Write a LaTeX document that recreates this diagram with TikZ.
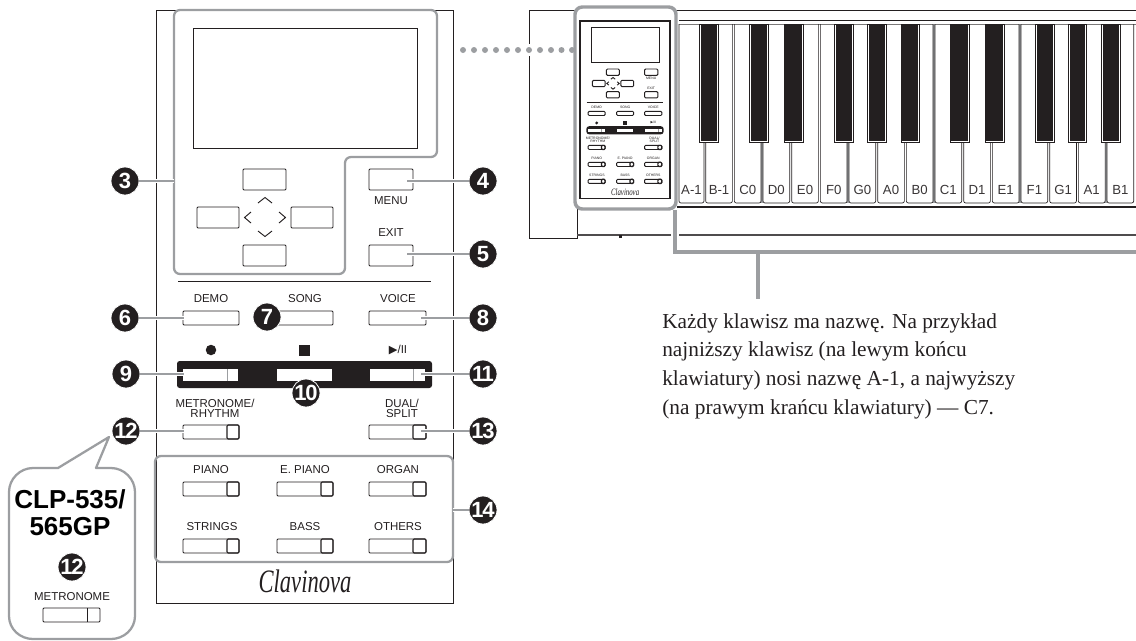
\documentclass[tikz,border=0pt]{standalone}
\usepackage{graphicx}
\usepackage{fontspec}
\setmainfont{Liberation Serif}
\setsansfont{Liberation Sans}
\newfontfamily\numfont[LetterSpace=-6.0]{Liberation Sans}
\newfontfamily\symfont{DejaVu Sans}
\definecolor{ink}{HTML}{231F20}
\definecolor{grp}{HTML}{9C9EA1}
\def\plw{.7pt}
\tikzset{
  x=.75pt,y=-.75pt,
  pline/.style={draw=ink,line width=\plw},
  btnbox/.style={pline,fill=white,rectangle,rounded corners=.8pt,inner sep=0pt,outer sep=0pt},
  lbl/.style={font=\sffamily\fontsize{8.6}{7.6}\selectfont,text=ink,align=center,inner sep=0pt},
  grpline/.style={draw=grp,line width=1.7pt,line join=round},
  leader/.style={draw=grp,line width=1.7pt},
  callout/.style={circle,fill=ink,draw=white,line width=.6pt,minimum size=21pt,inner sep=0pt,text=white,font=\numfont\bfseries\fontsize{16.5}{16.5}\selectfont},
  bodyline/.style={draw=ink,line width=.75pt},
}
% plain button: name, x1,y1,x2,y2
\newcommand\btn[5]{\node[btnbox,minimum width={(#4-#2)*0.75pt},minimum height={(#5-#3)*0.75pt}] (#1) at ({(#2+#4)/2},{(#3+#5)/2}) {};}
% button with a lamp part: name,x1,y1,x2,y2,divider
\newcommand\dbtn[6]{\btn{#1}{#2}{#3}{#4}{#5}
  \draw[pline,line width=.85pt,rounded corners=.8pt] (#6,#3) -- (#4,#3) -- (#4,#5) -- (#6,#5) -- cycle;}
\newcommand\panelcontents[1]{%
  \node[pline,rectangle,inner sep=0pt,outer sep=0pt,minimum width={224*0.75pt},minimum height={120*0.75pt}] (#1disp) at (305,88) {};
  \btn{#1up}{243}{169}{286}{190}
  \btn{#1left}{197}{207}{239}{228}
  \btn{#1right}{291}{207}{333}{228}
  \btn{#1down}{243}{245}{286}{266}
  \draw[pline] (258,203) -- (265,197.5) -- (272,203);
  \draw[pline] (258,231) -- (265,236.5) -- (272,231);
  \draw[pline] (251,212) -- (244.5,217.5) -- (251,223);
  \draw[pline] (279,212) -- (285.5,217.5) -- (279,223);
  \btn{#1menu}{369}{169}{413}{190}
  \node[lbl] (#1menulbl) at (391,201) {MENU};
  \node[lbl] (#1exitlbl) at (391,233) {EXIT};
  \btn{#1exit}{369}{245}{413}{266}
  \draw[pline] (178,281) -- (431,281);
  \node[lbl] (#1demolbl) at (211,299) {DEMO};
  \node[lbl] (#1songlbl) at (305,299) {SONG};
  \node[lbl] (#1voicelbl) at (398,299) {VOICE};
  \btn{#1demo}{183}{311}{239}{325}
  \btn{#1song}{277}{311}{333}{325}
  \btn{#1voice}{369}{311}{426}{325}
  \node[circle,fill=ink,inner sep=0pt,minimum size={10.5*0.75pt}] (#1rec) at (211,350) {};
  \node[rectangle,fill=ink,inner sep=0pt,minimum size={11*0.75pt}] (#1stop) at (304,350) {};
  \node[lbl] (#1play) at (398,350) {{\symfont\fontsize{8.5}{8.5}\selectfont ▶}/II};
  \fill[ink,rounded corners=2pt] (177,361) rectangle (432,388);
  \fill[white] (183,369) rectangle (238,381);
  \fill[white] (277,369) rectangle (332,381);
  \fill[white] (370,369) rectangle (425,381);
  \draw[draw=grp,line width=.5pt] (227,369) -- (227,381);
  \draw[draw=grp,line width=.5pt] (413,369) -- (413,381);
  \node[lbl] (#1metlbl) at (215,408) {METRONOME/\\RHYTHM};
  \node[lbl] (#1duallbl) at (402,408) {DUAL/\\SPLIT};
  \dbtn{#1met}{183}{425}{239}{439}{227}
  \dbtn{#1dual}{369}{425}{426}{439}{413}
  \node[lbl] (#1pianolbl) at (211,470) {PIANO};
  \node[lbl] (#1epianolbl) at (305,470) {E. PIANO};
  \node[lbl] (#1organlbl) at (398,470) {ORGAN};
  \dbtn{#1piano}{183}{482}{239}{496}{227}
  \dbtn{#1epiano}{277}{482}{333}{496}{321}
  \dbtn{#1organ}{369}{482}{426}{496}{413}
  \node[lbl] (#1stringslbl) at (212,527) {STRINGS};
  \node[lbl] (#1basslbl) at (305,527) {BASS};
  \node[lbl] (#1otherslbl) at (398,527) {OTHERS};
  \dbtn{#1strings}{183}{539}{239}{553}{227}
  \dbtn{#1bass}{277}{539}{333}{553}{321}
  \dbtn{#1others}{369}{539}{426}{553}{413}
  \node[text=ink,inner sep=0pt,font=\rmfamily\itshape\fontsize{24.5}{25}\selectfont] (#1brand) at (305,581) {\scalebox{.69}[1]{Clavinova}};
}
\begin{document}
\begin{tikzpicture}
\path[use as bounding box] (0,0) rectangle (1136,640);
% ---------- main panel
\draw[bodyline] (156,10) rectangle (453,603);
\panelcontents{m}
\draw[grpline,rounded corners=4.5pt] (174,10) -- (437,10) -- (437,157) -- (345,157) -- (345,274) -- (174,274) -- cycle;
\draw[grpline,rounded corners=4.5pt] (155,456) rectangle (453,562);
% ---------- callouts and leaders
\coordinate (t3) at (174,181);
\coordinate (t4) at (407,181);
\coordinate (t5) at (407,254);
\coordinate (t6) at (184,318);
\coordinate (t8) at (421,318);
\coordinate (t9) at (184,374);
\coordinate (t11) at (421,374);
\coordinate (t12) at (184,431);
\coordinate (t13) at (421,431);
\coordinate (t14) at (453,510);
\node[callout] (c3) at (125,181) {3};
\node[callout] (c4) at (483,181) {4};
\node[callout] (c5) at (483,254) {5};
\node[callout] (c6) at (125,318) {6};
\node[callout] (c8) at (483,318) {8};
\node[callout] (c9) at (126,374) {9};
\node[callout] (c11) at (483,374) {11};
\node[callout] (c12) at (126,431) {12};
\node[callout] (c13) at (483,431) {13};
\node[callout] (c14) at (483,510) {14};
\foreach \a/\b in {c3/t3,c4/t4,c5/t5,c6/t6,c8/t8,c9/t9,c11/t11,c12/t12,c13/t13,c14/t14}{
  \draw[draw=white,line width=3.6pt] (\a) -- (\b);
  \draw[leader] (\a) -- (\b);
}
\node[callout] (c7) at (267,317) {7};
\node[callout] (c10) at (306,393) {10};
% ---------- speech bubble
\draw[grpline,fill=white] (58,468) -- (109,437) -- (96,468) -- (111,468) .. controls (124,468) and (135,479) .. (135,492) -- (135,616) .. controls (135,629) and (124,639) .. (111,639) -- (33,639) .. controls (20,639) and (9,629) .. (9,616) -- (9,492) .. controls (9,479) and (20,468) .. (33,468) -- cycle;
\node[text=black,inner sep=0pt,align=center,font=\sffamily\bfseries\fontsize{19.5}{20.3}\selectfont] (clp) at (70,513) {CLP-535/\\565GP};
\node[callout] (c12b) at (72,567) {12};
\node[lbl] (metb) at (72,597) {METRONOME};
\btn{bmet}{43}{608}{100}{622}
\draw[pline] (87,608) -- (87,622);
% ---------- keyboard body
\draw[bodyline] (529,10) -- (1136,10);
\draw[bodyline] (529,10) -- (529,238) -- (577,238) -- (577,205);
\draw[draw=ink!80,line width=.85pt] (577,235) -- (1136,235);
\fill[ink] (619,235) rectangle (621.5,238);
\draw[draw=ink,line width=.75pt] (679,20) -- (1136,20);
\draw[draw=ink!60,line width=.6pt] (679,24) -- (1136,24);
\draw[draw=ink,line width=.85pt] (677,207) -- (1136,207);
% gray gaps between white keys
\foreach \gx/\gy in {761.7/142,847.6/142,934/24,1020/24,1106/142}{
  \draw[draw=grp,line width=1.5pt] (\gx,\gy) -- (\gx,203);
}
% white keys
\foreach \i/\nm/\tl/\tr in {0/A-1/24/142,1/B-1/142/24,2/C0/24/142,3/D0/142/142,4/E0/142/24,5/F0/24/142,6/G0/142/142,7/A0/142/142,8/B0/142/24,9/C1/24/142,10/D1/142/142,11/E1/142/24,12/F1/24/142,13/G1/142/142,14/A1/142/142,15/B1/142/24}{
  \ifnum\i=0 \def\kl{679}\def\kr{704}\else
  \pgfmathsetmacro\kl{705.67+28.67*(\i-1)}\pgfmathsetmacro\kr{\kl+26.7}\fi
  \draw[draw=ink,line width=.5pt,rounded corners=1.5pt] (\kl,\tl) -- (\kl,203) -- (\kr,203) -- (\kr,\tr);
  \node[inner sep=0pt,text=ink!90,font=\sffamily\fontsize{9.9}{11}\selectfont] (key\i) at ({(\kl+\kr)/2},190) {\nm};
}
% black keys
\foreach \a/\b in {699.5/718.5,749.5/768.5,784/803,834.5/853.5,867.5/886.5,901/919.5,950/969.5,985/1004,1035.5/1054,1068.5/1086.5,1101.5/1120}{
  \draw[draw=ink,line width=.5pt,fill=white] (\a,24) rectangle (\b,142);
  \fill[ink] (\a+1.4,24) rectangle (\b-1.4,141);
}
\draw[draw=white,line width=3pt] (529,44) -- (529,56);
% ---------- dotted link
\foreach \dx in {463,474,485,496,507,518,529,540,551,561.5,572}{
  \fill[grp] (\dx,50) circle[radius=3];
}
% ---------- highlighted region
\draw[draw=grp,line width=2.6pt,fill=white,rounded corners=5.5pt] (575,7) rectangle (676,209);
\draw[draw=ink,line width=.85pt] (580,198.5) -- (580,21) -- (671,21);
\draw[draw=ink,line width=.85pt] (670,21) -- (670,198.5) -- (580,198.5);
\begin{scope}[shift={(532.73,18.66)},xscale=.303,yscale=.298,transform shape]
\def\plw{.7pt}
\panelcontents{k}
\end{scope}
% bracket
\coordinate (br0) at (675,210);
\coordinate (br1) at (675,252);
\coordinate (br2) at (1136,252);
\coordinate (br3) at (758,252);
\coordinate (br4) at (758,299);
\draw[draw=white,line width=5.5pt] (br0) -- (br1);
\draw[draw=grp,line width=2.3pt] (br0) -- (br1) -- (br2);
\draw[draw=grp,line width=2.3pt] (br3) -- (br4);
% ---------- note
\node[anchor=north west,inner sep=0pt,align=left,text=ink,font=\rmfamily\fontsize{16}{21.6}\selectfont] (note) at (662,313) {Każdy klawisz ma nazwę. Na przykład\\najniższy klawisz (na lewym końcu\\klawiatury) nosi nazwę A-1, a najwyższy\\(na prawym krańcu klawiatury) — C7.};
\end{tikzpicture}
\end{document}
